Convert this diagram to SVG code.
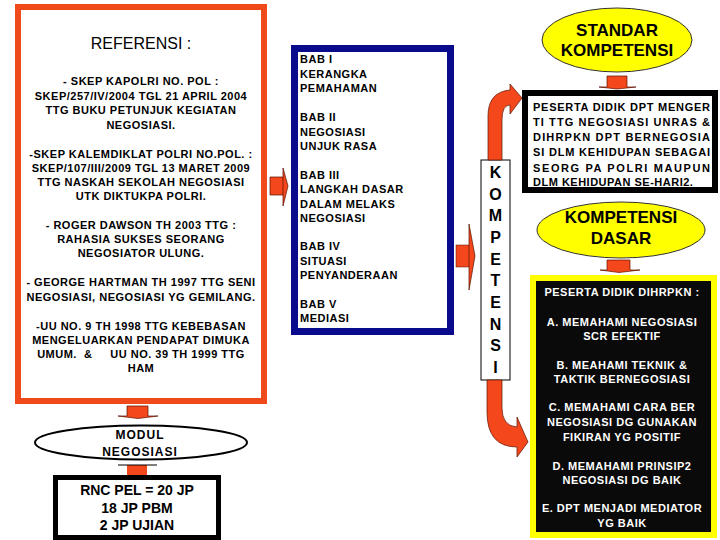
<svg xmlns="http://www.w3.org/2000/svg" width="720" height="540" viewBox="0 0 720 540">
<style>
 text{font-family:"Liberation Sans",Arial,sans-serif;fill:#000;}
 .b{font-weight:bold;font-size:11px;letter-spacing:0.5px;}
 .c{text-anchor:middle;}
 .w text{fill:#fff;}
 .j{letter-spacing:0;}
 .big{font-weight:bold;font-size:17px;text-anchor:middle;}
 .k{font-weight:bold;font-size:16px;text-anchor:middle;}
 .arr{fill:#F4481C;stroke:#5a1000;stroke-width:0.7;}
 .pre{white-space:pre;}
</style>
<rect width="720" height="540" fill="#fff"/>

<g id="referensi">
 <rect x="18" y="7" width="246" height="394" fill="#fff" stroke="#F04A1C" stroke-width="6"/>
 <text x="141" y="49" class="c" font-size="16">REFERENSI :</text>
 <g class="b c">
  <text x="141" y="85">- SKEP KAPOLRI NO. POL  :</text>
  <text x="141" y="99.5">SKEP/257/IV/2004 TGL 21 APRIL 2004</text>
  <text x="141" y="114">TTG BUKU PETUNJUK KEGIATAN</text>
  <text x="141" y="128.5">NEGOSIASI.</text>
  <text x="141" y="158">-SKEP KALEMDIKLAT POLRI NO.POL. :</text>
  <text x="141" y="171.5">SKEP/107/III/2009 TGL 13 MARET 2009</text>
  <text x="141" y="186">TTG NASKAH SEKOLAH NEGOSIASI</text>
  <text x="141" y="199.5">UTK DIKTUKPA POLRI.</text>
  <text x="141" y="229">- ROGER DAWSON TH 2003 TTG  :</text>
  <text x="141" y="243">RAHASIA SUKSES SEORANG</text>
  <text x="141" y="257">NEGOSIATOR ULUNG.</text>
  <text x="141" y="286">- GEORGE HARTMAN TH 1997 TTG SENI</text>
  <text x="141" y="301">NEGOSIASI, NEGOSIASI YG GEMILANG.</text>
  <text x="141" y="330">-UU NO. 9 TH 1998  TTG KEBEBASAN</text>
  <text x="141" y="343.5">MENGELUARKAN PENDAPAT DIMUKA</text>
  <text x="141" y="358" class="pre">UMUM.  &amp;     UU NO. 39 TH 1999 TTG</text>
  <text x="141" y="372">HAM</text>
 </g>
</g>

<g id="modul">
 <ellipse cx="141" cy="442.5" rx="106" ry="17" fill="#fff" stroke="#000" stroke-width="2"/>
 <text x="140" y="438.5" class="c" font-weight="bold" font-size="12" letter-spacing="1">MODUL</text>
 <text x="140" y="455.5" class="c" font-weight="bold" font-size="12" letter-spacing="1">NEGOSIASI</text>
</g>

<g id="rnc">
 <rect x="55.5" y="477.5" width="163" height="60" fill="#fff" stroke="#000" stroke-width="5"/>
 <text x="137" y="495" class="c" font-weight="bold" font-size="14">RNC PEL = 20 JP</text>
 <text x="137" y="513" class="c" font-weight="bold" font-size="14">18 JP PBM</text>
 <text x="137" y="530" class="c" font-weight="bold" font-size="14">2 JP UJIAN</text>
</g>

<g id="bab">
 <rect x="294.5" y="48.5" width="156" height="283" fill="#fff" stroke="#0A0A8C" stroke-width="7"/>
 <g class="b">
  <text x="300" y="63">BAB I</text>
  <text x="300" y="77.5">KERANGKA</text>
  <text x="300" y="92">PEMAHAMAN</text>
  <text x="300" y="121">BAB II</text>
  <text x="300" y="135.5">NEGOSIASI</text>
  <text x="300" y="150">UNJUK RASA</text>
  <text x="300" y="178.5">BAB III</text>
  <text x="300" y="193">LANGKAH DASAR</text>
  <text x="300" y="207.5">DALAM MELAKS</text>
  <text x="300" y="222">NEGOSIASI</text>
  <text x="300" y="250">BAB IV</text>
  <text x="300" y="264.5">SITUASI</text>
  <text x="300" y="279">PENYANDERAAN</text>
  <text x="300" y="307.5">BAB V</text>
  <text x="300" y="322">MEDIASI</text>
 </g>
</g>

<g id="kompetensi-vertical">
 <rect x="481" y="160" width="29" height="220" fill="#fff" stroke="#000" stroke-width="1"/>
 <text x="495.5" y="178" class="k">K</text>
 <text x="495.5" y="199.5" class="k">O</text>
 <text x="495.5" y="221" class="k">M</text>
 <text x="495.5" y="243" class="k">P</text>
 <text x="495.5" y="264.5" class="k">E</text>
 <text x="495.5" y="286" class="k">T</text>
 <text x="495.5" y="308" class="k">E</text>
 <text x="495.5" y="329.5" class="k">N</text>
 <text x="495.5" y="351" class="k">S</text>
 <text x="495.5" y="373" class="k">I</text>
</g>

<g id="standar">
 <ellipse cx="617" cy="40" rx="75" ry="32" fill="#FFFF00" stroke="#333" stroke-width="1"/>
 <text x="617" y="36" class="big">STANDAR</text>
 <text x="617" y="56" class="big">KOMPETENSI</text>
</g>

<g id="sk-text">
 <rect x="525" y="93" width="190" height="97" fill="#fff" stroke="#000" stroke-width="6"/>
 <g class="b">
  <text x="533" y="111.3" class="j" textLength="177" lengthAdjust="spacing">PESERTA DIDIK DPT MENGER</text>
  <text x="533" y="126.3" class="j" textLength="177" lengthAdjust="spacing">TI TTG NEGOSIASI UNRAS &amp;</text>
  <text x="533" y="141.3" class="j" textLength="177" lengthAdjust="spacing">DIHRPKN DPT BERNEGOSIA</text>
  <text x="533" y="156.3" class="j" textLength="177" lengthAdjust="spacing">SI DLM KEHIDUPAN SEBAGAI</text>
  <text x="533" y="171.7" class="j" textLength="177" lengthAdjust="spacing">SEORG PA POLRI MAUPUN</text>
  <text x="533" y="185.7">DLM KEHIDUPAN SE-HARI2.</text>
 </g>
</g>

<g id="kompetensi-dasar">
 <ellipse cx="621" cy="230" rx="84" ry="28" fill="#FFFF00" stroke="#333" stroke-width="1"/>
 <text x="621" y="223" class="big">KOMPETENSI</text>
 <text x="621" y="244" class="big">DASAR</text>
</g>

<g id="kd-text">
 <rect x="533" y="278" width="181" height="257" fill="#0a0a0a" stroke="#FFFF00" stroke-width="6"/>
 <g class="b c w">
  <text x="622" y="295.7">PESERTA DIDIK DIHRPKN :</text>
  <text x="622" y="325.7">A. MEMAHAMI NEGOSIASI</text>
  <text x="622" y="339.7">SCR EFEKTIF</text>
  <text x="622" y="369">B. MEAHAMI TEKNIK &amp;</text>
  <text x="622" y="383.3">TAKTIK BERNEGOSIASI</text>
  <text x="622" y="410.7">C. MEMAHAMI CARA BER</text>
  <text x="622" y="425.7">NEGOSIASI DG GUNAKAN</text>
  <text x="622" y="440.7">FIKIRAN YG POSITIF</text>
  <text x="622" y="470">D. MEMAHAMI PRINSIP2</text>
  <text x="622" y="484">NEGOSIASI DG BAIK</text>
  <text x="622" y="512.3">E. DPT MENJADI MEDIATOR</text>
  <text x="622" y="526.7">YG BAIK</text>
 </g>
</g>

<g id="connectors">
 <polygon class="arr" points="127,406 148,406 148,416 158,416 138,418.5 118,416 127,416"/>
 <rect x="127" y="465" width="20" height="10" fill="#F4481C"/>
 <line x1="118" y1="465" x2="157" y2="465" stroke="#000" stroke-width="1"/>
 <polygon class="arr" points="607,76 627,76 627,87 636,87 617,89 599,87 607,87"/>
 <polygon class="arr" points="607,260 630,260 630,270 640,270 619,272.5 600,270 607,270"/>
 <path class="arr" d="M270,177 H283 Q286,186 283,195 H270 Z"/>
 <polygon class="arr" points="283,168 288,186 283,206"/>
 <rect x="456" y="245" width="14" height="22" fill="#F4481C" stroke="#5a1000" stroke-width="0.5"/>
 <polygon class="arr" points="469,224 475,256 469,290"/>
 <path class="arr" d="M488,160 L488,116 Q488,92 510,90 L510,84 L522,98 L510,114 L510,105 Q502,105 502,120 L502,160 Z"/>
 <path class="arr" d="M487,380 L502,380 L502,408 Q502,426 517,427 L517,417 L528,442 L517,457 L517,447 Q487,447 487,412 Z"/>
</g>
</svg>
